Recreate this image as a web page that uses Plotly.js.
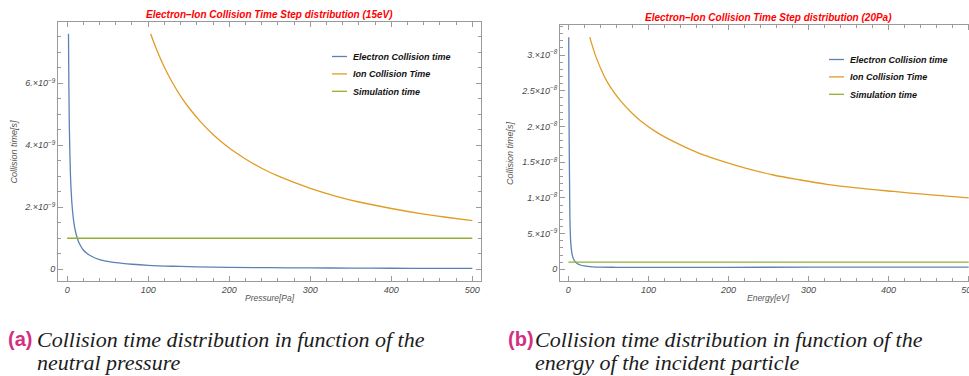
<!DOCTYPE html>
<html>
<head>
<meta charset="utf-8">
<script src="https://cdn.plot.ly/plotly-3.0.1.min.js"></script>
<style>
  html, body { margin: 0; padding: 0; width: 969px; height: 376px; overflow: hidden; background: #fff; }
  #chart { position: absolute; left: 0; top: 0; width: 1000px; height: 376px; }
  .cap { position: absolute; font-family: "Liberation Serif", serif; font-style: italic; font-size: 22px; line-height: 23px; color: #1c1c1c; white-space: nowrap; }
  .lab { position: absolute; font-family: "Liberation Sans", sans-serif; font-weight: bold; font-size: 20px; color: #d2307f; }
</style>
</head>
<body>
<div id="chart"></div>
<div class="lab" style="left:8px; top:328px;">(a)</div>
<div class="cap" style="left:37px; top:328px;">Collision time distribution in function of the<br>neutral pressure</div>
<div class="lab" style="left:508px; top:328px;">(b)</div>
<div class="cap" style="left:535px; top:328px;">Collision time distribution in function of the<br>energy of the incident particle</div>
<script>
// ---- (a) collision times versus neutral pressure at 15 eV ----
const pressureElectron = [1.65, 2.0, 2.5, 3.0, 4.0, 5.0, 6.0, 8.0, 10, 12.5, 15, 20, 25, 30, 40, 50, 60, 80, 100, 130, 160, 200, 250, 300, 350, 400, 450, 500];
const electronTimeP = [7.60e-9, 6.3e-9, 5.0e-9, 4.2e-9, 3.1e-9, 2.5e-9, 2.08e-9, 1.56e-9, 1.25e-9, 1.0e-9, 0.83e-9, 0.62e-9, 0.50e-9, 0.42e-9, 0.31e-9, 0.25e-9, 0.21e-9, 0.16e-9, 0.125e-9, 0.096e-9, 0.078e-9, 0.062e-9, 0.05e-9, 0.042e-9, 0.036e-9, 0.031e-9, 0.028e-9, 0.025e-9];
const pressureIon = [103, 110, 120, 130, 140, 150, 165, 180, 200, 220, 240, 260, 280, 300, 330, 360, 400, 440, 470, 500];
const ionTimeP = [7.60e-9, 7.12e-9, 6.52e-9, 6.02e-9, 5.59e-9, 5.22e-9, 4.75e-9, 4.35e-9, 3.91e-9, 3.56e-9, 3.26e-9, 3.01e-9, 2.80e-9, 2.61e-9, 2.37e-9, 2.17e-9, 1.96e-9, 1.78e-9, 1.67e-9, 1.57e-9];
const pressureSim = [0, 500];
const simTimeP = [1e-9, 1e-9];

// ---- (b) collision times versus incident energy at 20 Pa ----
const energyElectron = [0.5, 0.7, 1.0, 1.25, 1.5, 2.0, 2.5, 3.0, 4.0, 5.0, 6.5, 8.5, 11, 15, 20, 30, 40, 60, 100, 200, 300, 400, 500];
const electronTimeE = [32.5e-9, 26e-9, 19.5e-9, 15.5e-9, 12.5e-9, 7.0e-9, 5.0e-9, 3.8e-9, 2.6e-9, 1.95e-9, 1.45e-9, 1.07e-9, 0.82e-9, 0.6e-9, 0.47e-9, 0.35e-9, 0.30e-9, 0.28e-9, 0.27e-9, 0.28e-9, 0.29e-9, 0.30e-9, 0.31e-9];
const energyIon = [26.7, 35, 45, 52, 65, 80, 90, 110, 131, 160, 190, 220, 256, 290, 323, 360, 406, 450, 500];
const ionTimeE = [32.5e-9, 29.6e-9, 27.0e-9, 25.6e-9, 23.6e-9, 21.8e-9, 20.8e-9, 19.2e-9, 17.9e-9, 16.4e-9, 15.2e-9, 14.2e-9, 13.2e-9, 12.5e-9, 11.9e-9, 11.4e-9, 10.9e-9, 10.45e-9, 10.0e-9];
const energySim = [0, 500];
const simTimeE = [1e-9, 1e-9];

// ---- tick labels ----
const xTickVals = [0, 100, 200, 300, 400, 500];
const xTickText = ['0', '100', '200', '300', '400', '500'];
const yTickValsA = [0, 2e-9, 4e-9, 6e-9];
const yTickTextA = ['0', '2.×10<sup>−9</sup>', '4.×10<sup>−9</sup>', '6.×10<sup>−9</sup>'];
const yTickValsB = [0, 5e-9, 1e-8, 1.5e-8, 2e-8, 2.5e-8, 3e-8];
const yTickTextB = ['0', '5.×10<sup>−9</sup>', '1.×10<sup>−8</sup>', '1.5×10<sup>−8</sup>', '2.×10<sup>−8</sup>', '2.5×10<sup>−8</sup>', '3.×10<sup>−8</sup>'];

const seriesNames = ['Electron Collision time', 'Ion Collision Time', 'Simulation time'];
const colors = ['#5e81b5', '#e19c24', '#8fb032'];

function steps(lo, hi, step) {
  const out = [];
  for (let v = lo; v <= hi + step * 1e-6; v += step) out.push(+v.toPrecision(10));
  return out;
}

const W = 1000, H = 376;
const px = v => v / W;
const py = v => 1 - v / H;

const FONT = '"Liberation Sans", Arial, sans-serif';
const frame = '#9a9a9a';
const tickFont = { family: FONT, size: 9, color: '#4a4a4a', style: 'italic' };

function axisBase(extra) {
  return Object.assign({
    showline: true, linecolor: frame, linewidth: 1, mirror: 'allticks',
    ticks: 'inside', ticklen: 5, tickcolor: frame, tickwidth: 1,
    showgrid: false, zeroline: false, tickfont: tickFont, tickmode: 'array',
    fixedrange: true
  }, extra);
}

function line(x, y, i, xa, ya, leg) {
  return {
    x: x, y: y, type: 'scatter', mode: 'lines', name: seriesNames[i],
    line: { color: colors[i], width: 1.3, shape: 'spline', smoothing: 1 },
    xaxis: xa, yaxis: ya, legend: leg, hoverinfo: 'skip'
  };
}

const data = [
  line(pressureElectron, electronTimeP, 0, 'x', 'y', 'legend'),
  line(pressureIon, ionTimeP, 1, 'x', 'y', 'legend'),
  line(pressureSim, simTimeP, 2, 'x', 'y', 'legend'),
  line(energyElectron, electronTimeE, 0, 'x2', 'y2', 'legend2'),
  line(energyIon, ionTimeE, 1, 'x2', 'y2', 'legend2'),
  line(energySim, simTimeE, 2, 'x2', 'y2', 'legend2')
];

const legendFont = { family: FONT, size: 9, color: '#111', weight: 'bold', style: 'italic' };
const titleFont = { family: FONT, size: 10, color: '#ff0000', weight: 'bold', style: 'italic' };
const xLabelFont = { family: FONT, size: 8.5, color: '#555', style: 'italic' };
const yLabelFont = { family: FONT, size: 9, color: '#555', style: 'italic' };

const layout = {
  width: W, height: H,
  margin: { l: 0, r: 0, t: 0, b: 0 },
  paper_bgcolor: '#fff', plot_bgcolor: '#fff',
  showlegend: true,
  xaxis: axisBase({ domain: [px(58), px(481)], range: [-11.3, 510.7], anchor: 'y',
    tickvals: xTickVals, ticktext: xTickText,
    minor: { tickmode: 'array', tickvals: steps(0, 500, 20), ticks: 'inside', ticklen: 3, tickcolor: frame } }),
  yaxis: axisBase({ domain: [py(281), py(22)], range: [-0.38e-9, 7.98e-9], anchor: 'x',
    tickvals: yTickValsA, ticktext: yTickTextA,
    minor: { tickmode: 'array', tickvals: steps(0, 7.5e-9, 0.5e-9), ticks: 'inside', ticklen: 3, tickcolor: frame } }),
  xaxis2: axisBase({ domain: [px(560), px(977)], range: [-10.4, 510.4], anchor: 'y2',
    tickvals: xTickVals, ticktext: xTickText,
    minor: { tickmode: 'array', tickvals: steps(0, 500, 20), ticks: 'inside', ticklen: 3, tickcolor: frame } }),
  yaxis2: axisBase({ domain: [py(281), py(25)], range: [-1.64e-9, 34.2e-9], anchor: 'x2',
    tickvals: yTickValsB, ticktext: yTickTextB,
    minor: { tickmode: 'array', tickvals: steps(0, 34e-9, 1e-9), ticks: 'inside', ticklen: 3, tickcolor: frame } }),
  legend: { x: px(313), y: py(42), xanchor: 'left', yanchor: 'top', font: legendFont,
    bgcolor: 'rgba(0,0,0,0)', borderwidth: 0, tracegroupgap: 0 },
  legend2: { x: px(810), y: py(45), xanchor: 'left', yanchor: 'top', font: legendFont,
    bgcolor: 'rgba(0,0,0,0)', borderwidth: 0, tracegroupgap: 0 },
  annotations: [
    { text: 'Electron–Ion Collision Time Step distribution (15eV)', x: px(269.5), y: py(15), xref: 'paper', yref: 'paper',
      showarrow: false, font: titleFont, xanchor: 'center', yanchor: 'middle' },
    { text: 'Electron–Ion Collision Time Step distribution (20Pa)', x: px(768.5), y: py(18), xref: 'paper', yref: 'paper',
      showarrow: false, font: titleFont, xanchor: 'center', yanchor: 'middle' },
    { text: 'Pressure[Pa]', x: px(270), y: py(298), xref: 'paper', yref: 'paper',
      showarrow: false, font: xLabelFont, xanchor: 'center', yanchor: 'middle' },
    { text: 'Energy[eV]', x: px(768), y: py(298), xref: 'paper', yref: 'paper',
      showarrow: false, font: xLabelFont, xanchor: 'center', yanchor: 'middle' },
    { text: 'Collision time[s]', x: px(13), y: py(151.5), xref: 'paper', yref: 'paper', textangle: -90,
      showarrow: false, font: yLabelFont, xanchor: 'center', yanchor: 'middle' },
    { text: 'Collision time[s]', x: px(510), y: py(153), xref: 'paper', yref: 'paper', textangle: -90,
      showarrow: false, font: yLabelFont, xanchor: 'center', yanchor: 'middle' }
  ]
};

Plotly.newPlot('chart', data, layout, { staticPlot: true, displayModeBar: false }).then(() => {
  // shorter legend keys and tighter rows in both legends
  document.querySelectorAll('.legendlines path').forEach(p => p.setAttribute('d', 'M19,0h15'));
  document.querySelectorAll('.legend, .legend2').forEach(leg => {
    const items = leg.querySelectorAll('.traces');
    let y0 = null;
    items.forEach((g, i) => {
      const m = /translate\(\s*([-\d.]+)[ ,]+([-\d.]+)/.exec(g.getAttribute('transform') || '');
      if (!m) return;
      if (y0 === null) y0 = parseFloat(m[2]);
      g.setAttribute('transform', 'translate(' + m[1] + ',' + (y0 + i * 17.4) + ')');
    });
  });
});
</script>
</body>
</html>
